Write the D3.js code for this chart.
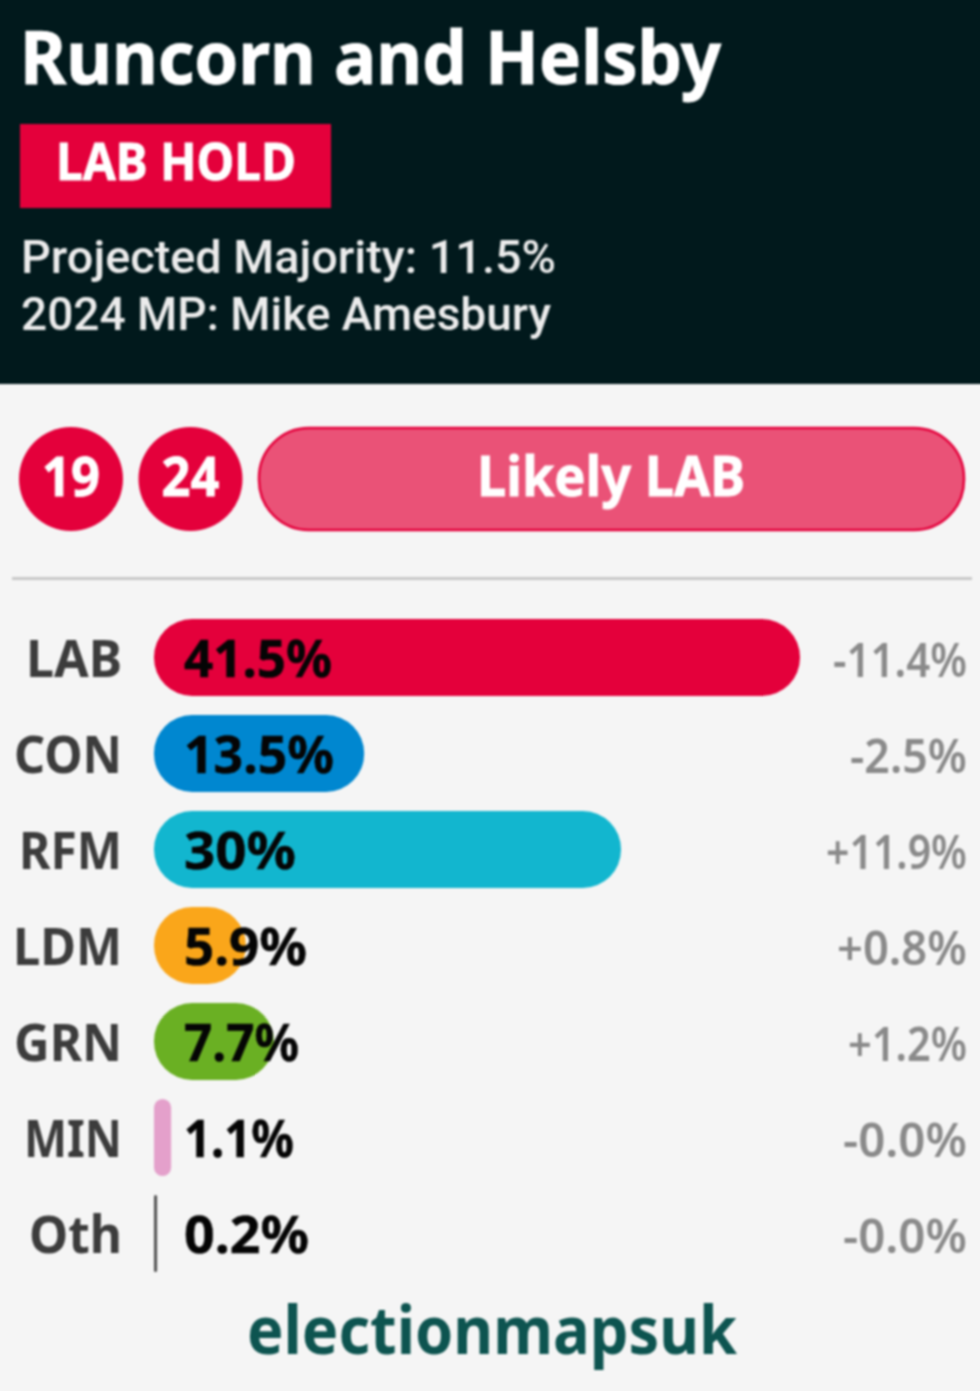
<!DOCTYPE html>
<html><head><meta charset="utf-8">
<script src="https://cdn.jsdelivr.net/npm/d3@7/dist/d3.min.js"></script>
<style>html,body{margin:0;padding:0;background:#f5f5f5;overflow:hidden}svg{display:block;overflow:visible;filter:blur(1px)}</style>
</head><body><div id="c"></div>
<script>
const parties=["LAB","CON","RFM","LDM","GRN","MIN","Oth"];
const shares=[41.5,13.5,30,5.9,7.7,1.1,0.2];
const shareLabels=["41.5%","13.5%","30%","5.9%","7.7%","1.1%","0.2%"];
const changes=["-11.4%","-2.5%","+11.9%","+0.8%","+1.2%","-0.0%","-0.0%"];
const colours=["#e4003b","#0087d0","#12b6cf","#faa61a","#6ab023","#e4a0cb","#555555"];
const title="Runcorn and Helsby";
const badge="LAB HOLD";
const infoLines=["Projected Majority: 11.5%","2024 MP: Mike Amesbury"];
const pastWinners=["19","24"];
const ratingLabel="Likely LAB";
const brand="electionmapsuk";
// rendered text widths, so the substitute font occupies the same room as the original
const partyFit=[96,108,103,109,108,98,93];
const shareFit=[148,150,112,123,115,110,125];
const changeFit=[134,117,141,130,119,124,124];
const infoFit=[535,530];
const FONT="'Noto Sans','Open Sans',sans-serif";
const W=980,H=1391,BLEED=12;
const svg=d3.select("#c").append("svg").attr("width",W).attr("height",H).attr("viewBox",[0,0,W,H]).style("font-family",FONT);
svg.append("rect").attr("x",-BLEED).attr("y",-BLEED).attr("width",W+2*BLEED).attr("height",H+2*BLEED).attr("fill","#f5f5f5");
svg.append("rect").attr("x",-BLEED).attr("y",-BLEED).attr("width",W+2*BLEED).attr("height",384+BLEED).attr("fill","#01191c");
svg.append("text").attr("x",20).attr("y",84).attr("fill","#fff").attr("stroke","#fff").attr("stroke-width",1).attr("font-size",73).attr("font-weight",700).attr("textLength",701).attr("lengthAdjust","spacingAndGlyphs").text(title);
svg.append("rect").attr("x",20).attr("y",124).attr("width",311).attr("height",84).attr("fill","#e4003b");
svg.append("text").attr("x",56).attr("y",180).attr("fill","#fff").attr("stroke","#fff").attr("stroke-width",.8).attr("font-size",52).attr("font-weight",700).attr("textLength",240).attr("lengthAdjust","spacingAndGlyphs").text(badge);
svg.selectAll("text.info").data(infoLines).join("text").attr("class","info").attr("x",21).attr("y",(d,i)=>273+i*57).attr("fill","#ececec").style("font-family","Roboto,sans-serif").attr("font-size",47).attr("font-weight",500).attr("textLength",(d,i)=>infoFit[i]).attr("lengthAdjust","spacingAndGlyphs").text(d=>d);
const circ=svg.selectAll("g.past").data(pastWinners).join("g").attr("class","past").attr("transform",(d,i)=>`translate(${71+i*119.5},479)`);
circ.append("circle").attr("r",52).attr("fill","#e4003b");
circ.append("text").attr("y",17).attr("text-anchor","middle").attr("fill","#fff").attr("stroke","#fff").attr("stroke-width",.8).attr("font-size",53).attr("font-weight",700).attr("textLength",58).attr("lengthAdjust","spacingAndGlyphs").text(d=>d);
svg.append("rect").attr("x",259).attr("y",428).attr("width",705).attr("height",102).attr("rx",50).attr("fill","#ea5277").attr("stroke","#e4003b").attr("stroke-width",2.5);
svg.append("text").attr("x",611).attr("y",496).attr("text-anchor","middle").attr("fill","#fff").attr("stroke","#fff").attr("stroke-width",.8).attr("font-size",55).attr("font-weight",700).attr("textLength",268).attr("lengthAdjust","spacingAndGlyphs").text(ratingLabel);
svg.append("line").attr("x1",12).attr("x2",972).attr("y1",578.5).attr("y2",578.5).attr("stroke","#c8c8c8").attr("stroke-width",3);
const x=d3.scaleLinear().domain([0,41.5]).range([154,800]);
const y=d3.scaleBand().domain(parties).range([619,1272]).paddingInner(19/96).paddingOuter(0);
const rows=svg.selectAll("g.row").data(parties).join("g").attr("class","row");
rows.append("rect").attr("x",x(0)).attr("y",d=>y(d)).attr("width",(d,i)=>x(shares[i])-x(0)).attr("height",y.bandwidth())
  .attr("rx",(d,i)=>Math.min(38,(x(shares[i])-x(0))/2)).attr("fill",(d,i)=>colours[i]);
rows.append("text").attr("x",(d,i)=>122-partyFit[i]).attr("y",d=>y(d)+58).attr("fill","#3c3c3c").attr("font-size",52).attr("font-weight",700).attr("textLength",(d,i)=>partyFit[i]).attr("lengthAdjust","spacingAndGlyphs").text(d=>d);
rows.append("text").attr("x",184).attr("y",d=>y(d)+58).attr("fill","#050505").attr("stroke","#050505").attr("stroke-width",.5).attr("font-size",52).attr("font-weight",700).attr("textLength",(d,i)=>shareFit[i]).attr("lengthAdjust","spacingAndGlyphs").text((d,i)=>shareLabels[i]);
rows.append("text").attr("fill","#8a8a8a").attr("font-size",47).attr("font-weight",600).text((d,i)=>changes[i])
  .each(function(d,i){
    const natural=this.getComputedTextLength();
    d3.select(this).attr("transform",`translate(${967-changeFit[i]},${y(d)+58}) scale(${changeFit[i]/natural},1)`);
  });
svg.append("text").attr("x",492).attr("y",1354).attr("text-anchor","middle").attr("fill","#0d5450").attr("font-size",66).attr("font-weight",700).attr("textLength",490).attr("lengthAdjust","spacingAndGlyphs").text(brand);
</script></body></html>
